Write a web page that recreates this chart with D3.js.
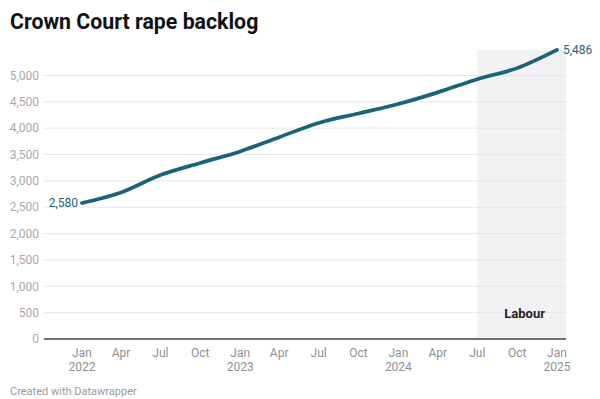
<!DOCTYPE html>
<html>
<head>
<meta charset="utf-8">
<script src="https://cdn.jsdelivr.net/npm/d3@7"></script>
<style>
  body { margin: 0; background: #fff; }
  svg { display: block; font-family: Roboto, "Noto Sans", sans-serif; }
</style>
</head>
<body>
<div id="chart"></div>
<script>
// Quarterly backlog figures
var quarters = ["2022-01", "2022-04", "2022-07", "2022-10", "2023-01", "2023-04", "2023-07",
  "2023-10", "2024-01", "2024-04", "2024-07", "2024-10", "2025-01"];
var backlog = [2580, 2780, 3110, 3340, 3560, 3830, 4100, 4280, 4460, 4680, 4930, 5140, 5486];
var yTicks = [0, 500, 1000, 1500, 2000, 2500, 3000, 3500, 4000, 4500, 5000];
var labourStart = "2024-07";

var width = 600, height = 399;
var parse = d3.timeParse("%Y-%m");
var data = quarters.map(function (q, i) {
  return { date: parse(q), value: backlog[i] };
});

var svg = d3.select("#chart").append("svg")
  .attr("width", width)
  .attr("height", height);

var x = d3.scaleTime()
  .domain([parse(quarters[0]), parse(quarters[quarters.length - 1])])
  .range([82, 557]);

var y = d3.scaleLinear()
  .domain([0, 5000])
  .range([339, 75.5]);

var left = 44, right = 566;
var shade = "#f2f1f3";

// Title
svg.append("text")
  .attr("x", 10)
  .attr("y", 29)
  .style("font-size", "21.3px")
  .style("font-weight", "bold")
  .attr("fill", "#111")
  .text("Crown Court rape backlog");

// Labour shading
svg.append("rect")
  .attr("x", x(parse(labourStart)))
  .attr("y", y(d3.max(backlog)))
  .attr("width", right - x(parse(labourStart)))
  .attr("height", y(0) - y(d3.max(backlog)))
  .attr("fill", shade);

// Gridlines and y labels
svg.selectAll(".grid")
  .data(yTicks.filter(function (d) { return d > 0; }))
  .enter()
  .append("line")
  .attr("x1", left)
  .attr("x2", right)
  .attr("y1", function (d) { return y(d); })
  .attr("y2", function (d) { return y(d); })
  .attr("stroke", "#e6e6e6")
  .attr("stroke-width", 1);

svg.selectAll(".ylab")
  .data(yTicks)
  .enter()
  .append("text")
  .attr("x", 39)
  .attr("y", function (d) { return y(d); })
  .attr("dy", "0.35em")
  .attr("text-anchor", "end")
  .style("font-size", "12px")
  .attr("fill", "#a8a8a8")
  .text(function (d) { return d3.format(",")(d); });

svg.append("text")
  .attr("x", (x(parse(labourStart)) + right) / 2 + 3)
  .attr("y", 318)
  .attr("text-anchor", "middle")
  .style("font-size", "13px")
  .style("font-weight", "bold")
  .attr("fill", "#222")
  .attr("stroke", shade)
  .attr("stroke-width", 4)
  .attr("paint-order", "stroke")
  .text("Labour");

// Baseline
svg.append("line")
  .attr("x1", left)
  .attr("x2", right)
  .attr("y1", y(0))
  .attr("y2", y(0))
  .attr("stroke", "#444")
  .attr("stroke-width", 1.3);

// X axis labels
var months = ["Jan", "Apr", "Jul", "Oct"];
var xl = svg.selectAll(".xlab")
  .data(data)
  .enter()
  .append("text")
  .attr("text-anchor", "middle")
  .style("font-size", "12px")
  .attr("fill", "#8f8f8f");

xl.append("tspan")
  .attr("x", function (d) { return x(d.date); })
  .attr("y", 357)
  .text(function (d) { return months[d.date.getMonth() / 3]; });

xl.filter(function (d) { return d.date.getMonth() === 0; })
  .append("tspan")
  .attr("x", function (d) { return x(d.date); })
  .attr("y", 371)
  .text(function (d) { return d.date.getFullYear(); });

// Line
var line = d3.line()
  .x(function (d) { return x(d.date); })
  .y(function (d) { return y(d.value); })
  .curve(d3.curveMonotoneX);

svg.append("path")
  .datum(data)
  .attr("d", line)
  .attr("fill", "none")
  .attr("stroke", "#1b6378")
  .attr("stroke-width", 3.7)
  .attr("stroke-linecap", "round")
  .attr("stroke-linejoin", "round");

// End labels
var first = data[0], last = data[data.length - 1];
svg.append("text")
  .attr("x", x(first.date) - 4)
  .attr("y", y(first.value))
  .attr("dy", "0.35em")
  .attr("text-anchor", "end")
  .style("font-size", "12px")
  .attr("fill", "#1b6378")
  .text(d3.format(",")(first.value));

svg.append("text")
  .attr("x", x(last.date) + 6)
  .attr("y", y(last.value))
  .attr("dy", "0.35em")
  .style("font-size", "12px")
  .attr("fill", "#1b6378")
  .text(d3.format(",")(last.value));

// Footer
svg.append("text")
  .attr("x", 10)
  .attr("y", 395)
  .style("font-size", "11px")
  .attr("fill", "#999")
  .text("Created with Datawrapper");
</script>
</body>
</html>
